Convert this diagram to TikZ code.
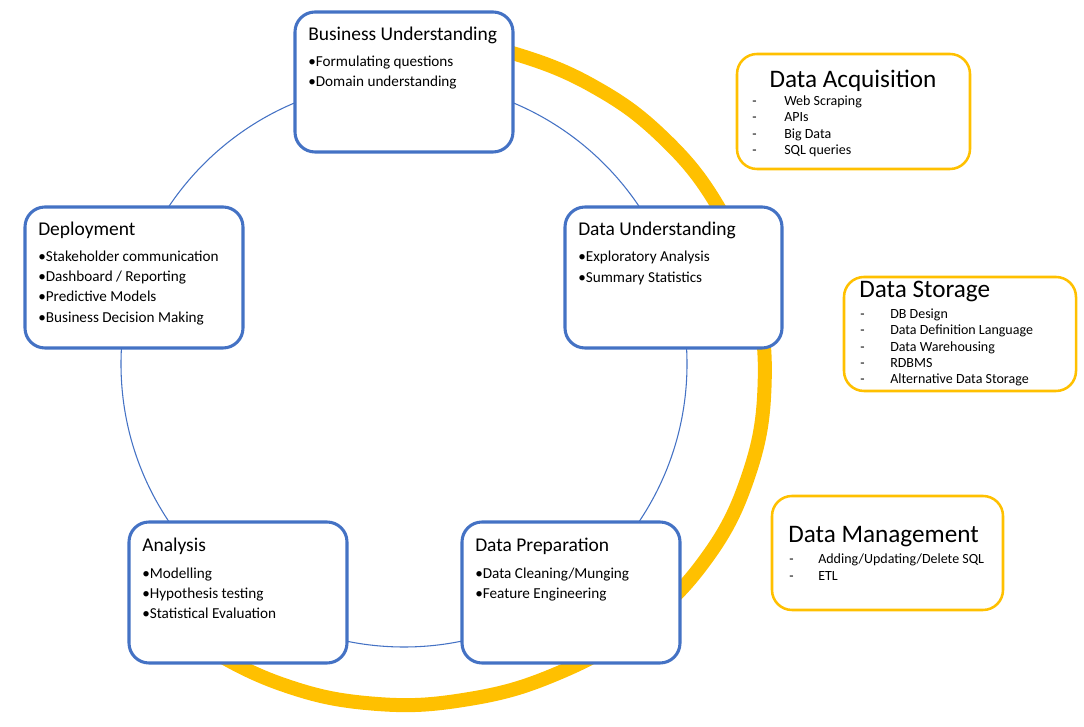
\documentclass[tikz,border=0pt]{standalone}
\usepackage{fontspec}
\setmainfont{Carlito}
\usetikzlibrary{fit}
\definecolor{cblue}{HTML}{4472C4}
\definecolor{cgold}{HTML}{FFC000}
\tikzset{
  bluebox/.style={draw=cblue, line width=2.3pt, rounded corners=15pt, fill=white, inner sep=0pt},
  goldbox/.style={draw=cgold, line width=1.9pt, rounded corners=15pt, fill=white, inner sep=0pt},
  ttl/.style={anchor=mid west, inner sep=0pt, font=\fontsize{14.6}{17}\selectfont},
  itm/.style={anchor=mid west, inner sep=0pt, font=\fontsize{11.4}{13}\selectfont},
  sttl/.style={inner sep=0pt, font=\fontsize{18.9}{22}\selectfont},
  sitm/.style={anchor=mid west, inner sep=0pt, font=\fontsize{10.5}{12}\selectfont},
}
\begin{document}
\begin{tikzpicture}[x=0.75pt,y=0.75pt]
\useasboundingbox (0,0) rectangle (1084,727);
% thin cycle circle
\coordinate (cc) at (404,363);
\draw[cblue, line width=0.8pt] (cc) circle[radius=212.25pt];
% thick yellow arc
\begin{scope}[shift={(404,375)}]
\draw[cgold, line width=10.5pt] plot[smooth, tension=0.7] coordinates {
  (80:312) (70:318) (55:326) (40:336) (25:346) (10:355) (-5:362) (-20:366)
  (-35:366) (-50:361) (-65:356) (-80:353) (-95:353) (-110:354) (-125:356) (-135:358)};
\end{scope}
% main boxes
\node[bluebox, fit={(295,715) (513,575)}] (bu) {};
\node[bluebox, fit={(565,520) (782,379)}] (du) {};
\node[bluebox, fit={(25,520) (243,379)}] (dep) {};
\node[bluebox, fit={(129,205) (347,64)}] (ana) {};
\node[bluebox, fit={(462,205) (680,64)}] (dp) {};
% side boxes
\node[goldbox, fit={(737,673) (970,558)}] (da) {};
\node[goldbox, fit={(844,450) (1076,336)}] (ds) {};
\node[goldbox, fit={(772,231) (1003,117)}] (dm) {};
% Business Understanding
\node[ttl] (bu-t) at (308,690) {Business Understanding};
\node[itm] (bu-1) at (308,664) {•Formulating questions};
\node[itm] (bu-2) at (308,644) {•Domain understanding};
% Deployment
\node[ttl] (dep-t) at (38,495) {Deployment};
\node[itm] (dep-1) at (38,469) {•Stakeholder communication};
\node[itm] (dep-2) at (38,449) {•Dashboard / Reporting};
\node[itm] (dep-3) at (38,429) {•Predictive Models};
\node[itm] (dep-4) at (38,408) {•Business Decision Making};
% Data Understanding
\node[ttl] (du-t) at (578,495) {Data Understanding};
\node[itm] (du-1) at (578,469) {•Exploratory Analysis};
\node[itm] (du-2) at (578,448) {•Summary Statistics};
% Analysis
\node[ttl] (ana-t) at (142,179) {Analysis};
\node[itm] (ana-1) at (142,152) {•Modelling};
\node[itm] (ana-2) at (142,132) {•Hypothesis testing};
\node[itm] (ana-3) at (142,112) {•Statistical Evaluation};
% Data Preparation
\node[ttl] (dp-t) at (475,179) {Data Preparation};
\node[itm] (dp-1) at (475,152) {•Data Cleaning/Munging};
\node[itm] (dp-2) at (475,132) {•Feature Engineering};
% Data Acquisition
\node[sttl] (da-t) at (853,646) {Data Acquisition};
\foreach \y/\t [count=\i] in {625/Web Scraping, 609/APIs, 592/Big Data, 576/SQL queries}{
  \node[sitm] (da-d\i) at (752,\y) {-};
  \node[sitm] (da-\i) at (784,\y) {\t};
}
% Data Storage
\node[sttl, anchor=mid west] (ds-t) at (859,433) {Data Storage};
\foreach \y/\t [count=\i] in {412/DB Design, 396/Data Definition Language, 379/Data Warehousing, 363/RDBMS, 347/Alternative Data Storage}{
  \node[sitm] (ds-d\i) at (860,\y) {-};
  \node[sitm] (ds-\i) at (890,\y) {\t};
}
% Data Management
\node[sttl, anchor=mid west] (dm-t) at (788,188) {Data Management};
\node[sitm] (dm-d1) at (789,167) {-};
\node[sitm] (dm-1) at (818,167) {Adding/Updating/Delete SQL};
\node[sitm] (dm-d2) at (789,150) {-};
\node[sitm] (dm-2) at (818,150) {ETL};
\end{tikzpicture}
\end{document}
